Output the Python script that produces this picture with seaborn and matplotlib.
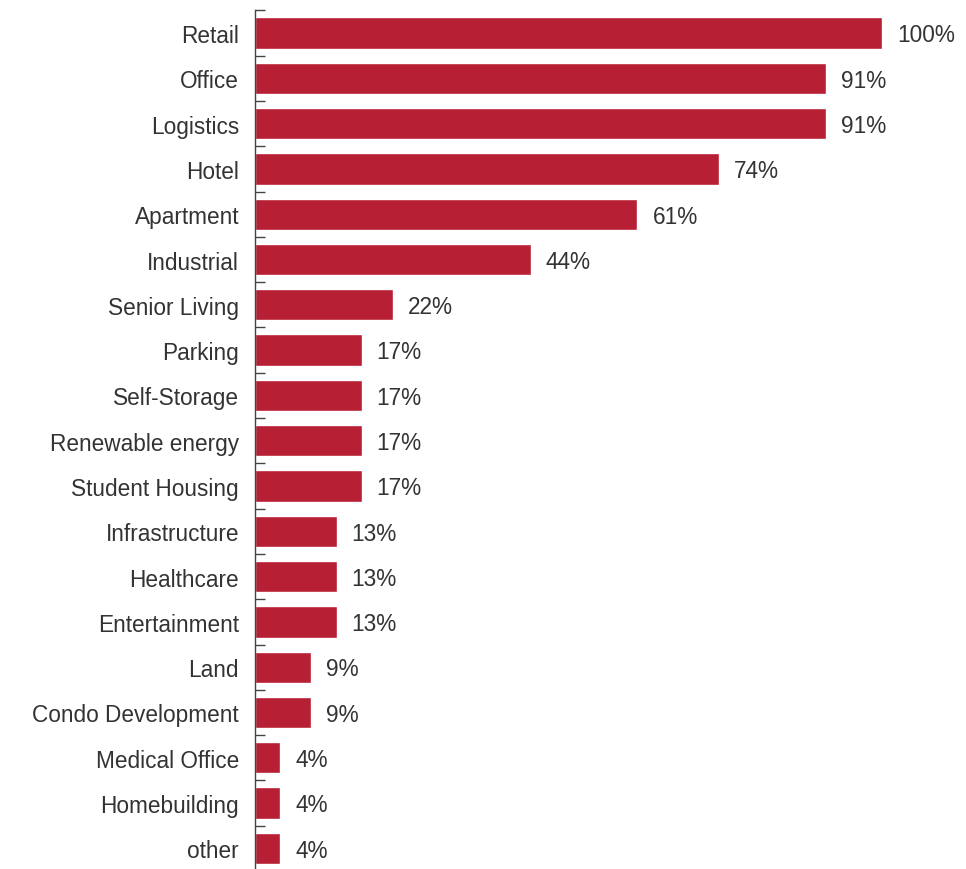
import matplotlib
matplotlib.use("Agg")
import matplotlib.pyplot as plt
import seaborn as sns
import pandas as pd
import numpy as np

categories = [
    "Retail", "Office", "Logistics", "Hotel", "Apartment", "Industrial",
    "Senior Living", "Parking", "Self-Storage", "Renewable energy",
    "Student Housing", "Infrastructure", "Healthcare", "Entertainment",
    "Land", "Condo Development", "Medical Office", "Homebuilding", "other",
]
shares = [100, 91, 91, 74, 61, 44, 22, 17, 17, 17, 17, 13, 13, 13, 9, 9, 4, 4, 4]

sns.set_theme(style="white")
plt.rcParams["font.family"] = ["Liberation Sans", "DejaVu Sans"]

df = pd.DataFrame({"category": categories, "share": shares})

W, H = 966, 870
fig = plt.figure(figsize=(W / 100, H / 100), dpi=100)
top_px, bottom_px = 11.4, 872.0
ax = fig.add_axes([255 / W, 1 - bottom_px / H, (882 - 255) / W,
                   (bottom_px - top_px) / H])

sns.barplot(data=df, x="share", y="category", orient="h", color="#B71F34",
            saturation=1, width=0.69, ax=ax)

ax.set_xlim(0, 100)
ax.set_ylim(len(categories) - 0.5, -0.5)
ax.set_xlabel("")
ax.set_ylabel("")
ax.set_xticks([])

for s in ["top", "right", "bottom"]:
    ax.spines[s].set_visible(False)
ax.spines["left"].set_color("#444444")
ax.spines["left"].set_linewidth(1.0)

text_color = "#333333"
ax.tick_params(axis="y", which="major", left=False, length=0, pad=11.5,
               labelsize=16.3, labelcolor=text_color)
ax.set_yticks(np.arange(-0.5, len(categories), 1.0), minor=True)
ax.tick_params(axis="y", which="minor", left=True, direction="in", length=7,
               width=1.0, color="#444444")

for i, v in enumerate(shares):
    ax.text(v + 2.4, i + 0.04, f"{v}%", va="center", ha="left", fontsize=16.3,
            color=text_color, clip_on=False)

fig.savefig("out.png", dpi=100)
